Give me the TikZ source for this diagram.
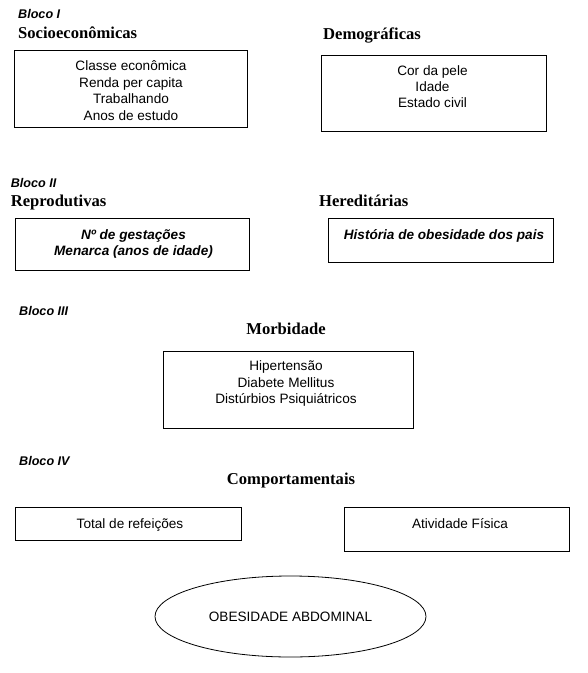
\documentclass[tikz,border=0pt]{standalone}
\usepackage{fontspec}
\setmainfont{Liberation Serif}
\setsansfont{Liberation Sans}
\usetikzlibrary{shapes.geometric}
\tikzset{
  box/.style={draw, line width=0.8pt, rectangle, inner sep=0pt, outer sep=0pt},
  oval/.style={draw, line width=0.8pt, ellipse, inner sep=0pt, outer sep=0pt, font=\sffamily\fontsize{13.6}{16.4}\selectfont},
  itemtxt/.style={anchor=base, align=center, inner sep=0pt, font=\sffamily\fontsize{13.6}{16.4}\selectfont},
  itembi/.style={itemtxt, font=\sffamily\bfseries\itshape\fontsize{13.6}{16.4}\selectfont},
  heading/.style={anchor=base west, inner sep=0pt, font=\rmfamily\bfseries\fontsize{16.6}{20}\selectfont},
  headingc/.style={heading, anchor=base},
  bloco/.style={anchor=base west, inner sep=0pt, font=\sffamily\bfseries\itshape\fontsize{12.6}{15}\selectfont}
}
\begin{document}
\begin{tikzpicture}[x=1pt, y=-1pt]
\useasboundingbox (0,0) rectangle (588,673);
% Bloco I
\node[bloco] (bl1) at (18,18) {Bloco I};
\node[heading] (h1) at (18,38) {Socioeconômicas};
\node[heading] (h2) at (323,39) {Demográficas};
\node[box, minimum width=233, minimum height=77] (b1) at (130.5,88.5) {};
\node[itemtxt] (t1) at (131,120) {Classe econômica\\Renda per capita\\Trabalhando\\Anos de estudo};
\node[box, minimum width=225, minimum height=76] (b2) at (433.5,93) {};
\node[itemtxt] (t2) at (432.5,107.8) {Cor da pele\\Idade\\Estado civil};
% Bloco II
\node[bloco] (bl2) at (10.6,187) {Bloco II};
\node[heading] (h3) at (10.6,206) {Reprodutivas};
\node[heading] (h4) at (319,206) {Hereditárias};
\node[box, minimum width=234, minimum height=52] (b3) at (132,244) {};
\node[itembi] (t3) at (133.5,255.4) {Nº de gestações\\Menarca (anos de idade)};
\node[box, minimum width=225, minimum height=44] (b4) at (440.5,240) {};
\node[itembi] (t4) at (444,239) {História de obesidade dos pais};
% Bloco III
\node[bloco] (bl3) at (19,315) {Bloco III};
\node[headingc] (h5) at (286,334) {Morbidade};
\node[box, minimum width=250, minimum height=77] (b5) at (288,389.5) {};
\node[itemtxt] (t5) at (286,403.5) {Hipertensão\\Diabete Mellitus\\Distúrbios Psiquiátricos};
% Bloco IV
\node[bloco] (bl4) at (19,465) {Bloco IV};
\node[headingc] (h6) at (291,484) {Comportamentais};
\node[box, minimum width=226, minimum height=33] (b6) at (128,523.5) {};
\node[itemtxt] (t6) at (130,528) {Total de refeições};
\node[box, minimum width=225, minimum height=44] (b7) at (456.5,529) {};
\node[itemtxt] (t7) at (460,528) {Atividade Física};
% Outcome
\node[oval, minimum width=271, minimum height=81] (ob) at (290.5,616.5) {OBESIDADE ABDOMINAL};
\end{tikzpicture}
\end{document}
